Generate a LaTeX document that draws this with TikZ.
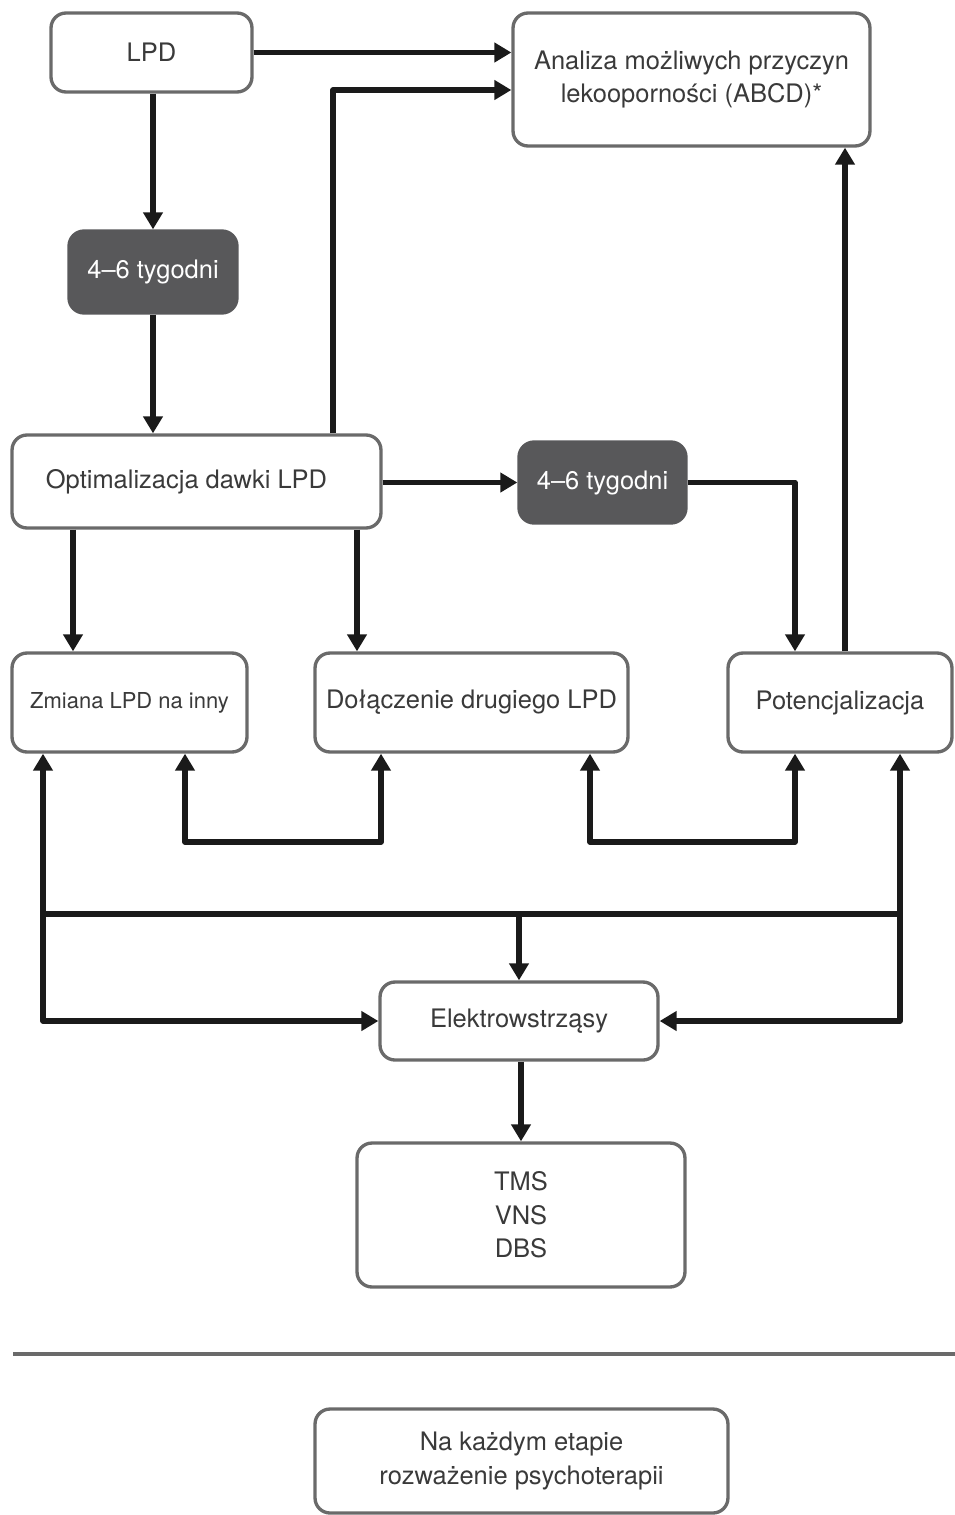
\documentclass[tikz,border=0pt]{standalone}
\usepackage{fontspec}
\setmainfont{TeX Gyre Heros}
\usetikzlibrary{arrows.meta}
\definecolor{boxline}{HTML}{6A6A6A}
\definecolor{boxtext}{HTML}{3A3A3A}
\definecolor{darkbox}{HTML}{58585A}
\definecolor{wire}{HTML}{1A1A1A}

\begin{document}
\begin{tikzpicture}[x=0.02cm,y=-0.02cm,
    box/.style={draw=boxline,line width=1.9pt,rounded corners=0.3cm,fill=white,
        text=boxtext,align=center,inner sep=0pt,font=\fontsize{14.5}{19}\selectfont},
    darkbox/.style={box,draw=darkbox,fill=darkbox,text=white},
    link/.style={draw=wire,line width=3.2pt,line join=round,
        -{Triangle[length=0.34cm,width=0.38cm]}},
    twolink/.style={link,{Triangle[length=0.34cm,width=0.38cm]}-{Triangle[length=0.34cm,width=0.38cm]}},
    bus/.style={draw=wire,line width=3.2pt,line join=round}]
    \useasboundingbox (0,0) rectangle (955,1515);
    % boxes
    \node[box,minimum width=4.02cm,minimum height=1.58cm] (lpd) at (151.5,52.5) {LPD};
    \node[box,minimum width=7.14cm,minimum height=2.66cm] (ana) at (691.5,79.5)
        {Analiza możliwych przyczyn\\lekooporności (ABCD)*};
    \node[darkbox,minimum width=3.36cm,minimum height=1.64cm] (tyg1) at (153,272) {4–6 tygodni};
    \node[box,minimum width=7.38cm,minimum height=1.86cm] (opt) at (196.5,481.5)
        {Optimalizacja dawki LPD\hspace{0.4cm}};
    \node[darkbox,minimum width=3.34cm,minimum height=1.62cm] (tyg2) at (602.5,482.5) {4–6 tygodni};
    \node[box,minimum width=4.7cm,minimum height=1.98cm,font=\fontsize{12.5}{15}\selectfont]
        (zmi) at (129.5,702.5) {Zmiana LPD na inny};
    \node[box,minimum width=6.26cm,minimum height=1.98cm] (dol) at (471.5,702.5) {Dołączenie drugiego LPD};
    \node[box,minimum width=4.48cm,minimum height=1.98cm] (pot) at (840,702.5) {Potencjalizacja};
    \node[box,minimum width=5.56cm,minimum height=1.56cm] (ele) at (519,1021) {Elektrowstrząsy};
    \node[box,minimum width=6.56cm,minimum height=2.88cm] (tms) at (521,1215) {TMS\\VNS\\DBS};
    \node[box,minimum width=8.26cm,minimum height=2.08cm] (psy) at (521.5,1461)
        {Na każdym etapie\\rozważenie psychoterapii};
    % turning points
    \coordinate (up1) at (333,90);
    \coordinate (dn1) at (795,477);
    \coordinate (up2) at (845,0);
    \coordinate (dnl) at (73,0);
    \coordinate (dnr) at (357,0);
    \coordinate (bl1) at (185,842);
    \coordinate (br1) at (381,842);
    \coordinate (bl2) at (590,842);
    \coordinate (br2) at (795,842);
    \coordinate (busl) at (43,914);
    \coordinate (busr) at (900,914);
    \coordinate (lowl) at (43,1021);
    \coordinate (lowr) at (900,1021);
    \coordinate (sepl) at (13,1354);
    \coordinate (sepr) at (955,1354);
    % connectors
    \draw[link] (lpd.east) -- (lpd.east -| ana.west);
    \draw[link] (up1 |- opt.north) -- (up1) -- (up1 -| ana.west);
    \draw[link] (tyg1.north |- lpd.south) -- (tyg1.north);
    \draw[link] (tyg1.south) -- (tyg1.south |- opt.north);
    \draw[link] (opt.east |- tyg2.west) -- (tyg2.west);
    \draw[link] (tyg2.east) -| (dn1 |- pot.north);
    \draw[link] (up2 |- pot.north) -- (up2 |- ana.south);
    \draw[link] (dnl |- opt.south) -- (dnl |- zmi.north);
    \draw[link] (dnr |- opt.south) -- (dnr |- dol.north);
    \draw[twolink] (bl1 |- zmi.south) -- (bl1) -- (br1) -- (br1 |- dol.south);
    \draw[twolink] (bl2 |- dol.south) -- (bl2) -- (br2) -- (br2 |- pot.south);
    \draw[bus] (busl) -- (busr);
    \draw[link] (ele.north |- busl) -- (ele.north);
    \draw[twolink] (busl |- zmi.south) -- (lowl) -- (ele.west);
    \draw[twolink] (busr |- pot.south) -- (lowr) -- (ele.east);
    \draw[link] (tms.north |- ele.south) -- (tms.north);
    % separator
    \draw[boxline,line width=1.9pt] (sepl) -- (sepr);
\end{tikzpicture}
\end{document}
